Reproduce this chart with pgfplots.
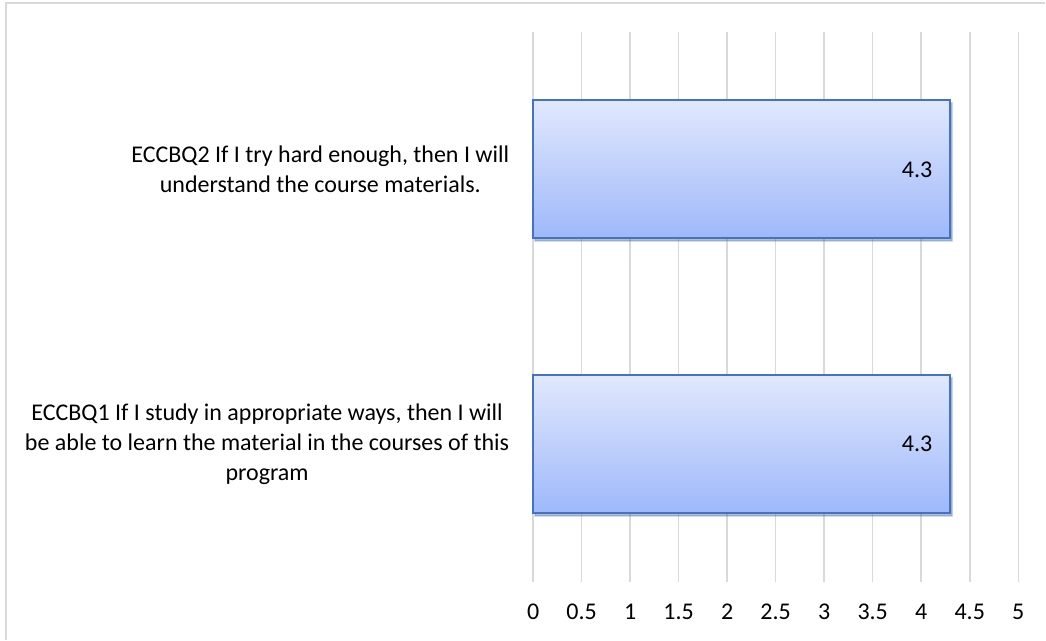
\documentclass[border=0pt]{standalone}
\usepackage{pgfplots}
\pgfplotsset{compat=1.18}
\usepackage{fontspec}
\setmainfont{Carlito}
\usetikzlibrary{shadows}
\definecolor{baredge}{RGB}{68,114,196}
\definecolor{bartop}{RGB}{225,232,253}
\definecolor{barbot}{RGB}{158,184,250}
\definecolor{gridc}{RGB}{217,217,217}
\definecolor{framec}{RGB}{217,217,217}
\begin{document}
\begin{tikzpicture}
\begin{axis}[
  scale only axis,
  width=242.75pt, height=275pt,
  xmin=0, xmax=5, ymin=-0.5, ymax=1.5,
  xtick={0,0.5,...,5},
  xticklabels={0,0.5,1,1.5,2,2.5,3,3.5,4,4.5,5},
  ytick={0,1},
  yticklabels={{ECCBQ1 If I study in appropriate ways, then I will\\be able to learn the material in the courses of this\\program},
               {ECCBQ2 If I try hard enough, then I will\\understand the course materials.}},
  /pgf/number format/assume math mode=true,
  xmajorgrids,
  grid style={gridc, line width=0.75pt},
  axis line style={draw=none},
  tick style={draw=none},
  ticklabel style={font=\fontsize{12}{14.8}\selectfont, inner sep=0pt},
  yticklabel style={align=center, anchor=east, xshift=-7.5pt},
  xticklabel style={anchor=north, yshift=-11pt},
  clip=false,
  xbar,
  bar width=69pt,
  bar shift=0pt,
  nodes near coords,
  nodes near coords align={horizontal},
  every node near coord/.append style={anchor=east, xshift=-8.5pt, inner sep=0pt, font=\fontsize{12}{14.8}\selectfont, text=black},
  barstyle/.style={draw=baredge, line width=1pt, top color=bartop, bottom color=barbot,
    drop shadow={shadow xshift=1pt, shadow yshift=-1.2pt, opacity=0.25, fill=black}},
]
\addplot[barstyle] coordinates {(4.3,0)};
\addplot[barstyle] coordinates {(4.3,1)};
\path (axis cs:-5.494,-0.7109) rectangle (axis cs:5.278,1.6164);
\draw[framec, line width=0.75pt] (axis cs:-5.4325,-0.7109) -- (axis cs:-5.4325,1.6055) -- (axis cs:5.278,1.6055);
\end{axis}
\end{tikzpicture}
\end{document}
